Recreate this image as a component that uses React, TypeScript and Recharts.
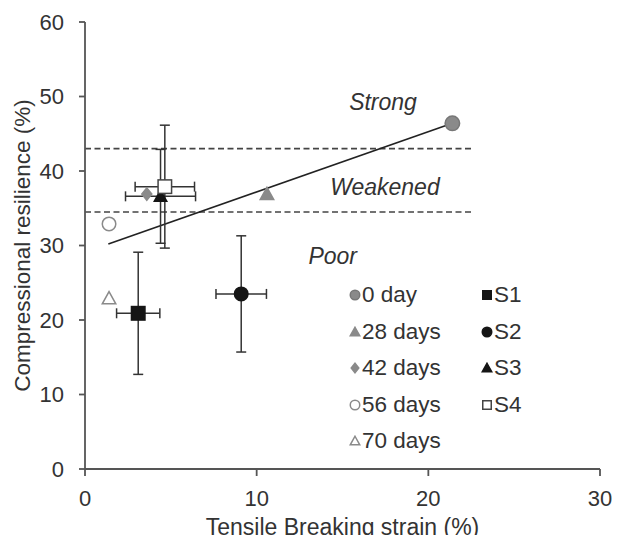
import React from 'react';
import {
  ScatterChart,
  Scatter,
  XAxis,
  YAxis,
  ErrorBar,
  ReferenceLine,
  ReferenceDot,
  Legend,
} from 'recharts';

// ---------- data ----------
const dayLabels = ['0 day', '28 days', '42 days', '56 days', '70 days'];
const dayStrain = [21.4, 10.6, 3.6, 1.4, 1.4];
const dayResilience = [46.4, 36.9, 36.9, 32.9, 22.9];

const sampleLabels = ['S1', 'S2', 'S3', 'S4'];
const sampleStrain = [3.1, 9.1, 4.4, 4.65];
const sampleStrainErr = [1.26, 1.47, 2.04, 1.73];
const sampleResilience = [20.9, 23.5, 36.6, 37.9];
const sampleResilienceErr = [8.2, 7.8, 6.3, 8.25];

const trendX = [1.36, 21.4];
const trendY = [30.2, 46.4];

const thresholdLevels = [43, 34.5];
const thresholdEndX = 22.5;

const regionLabels = ['Strong', 'Weakened', 'Poor'];
const regionX = [17.36, 17.47, 14.43];
const regionY = [49.3, 37.9, 28.6];

const xTicks = [0, 10, 20, 30];
const yTicks = [0, 10, 20, 30, 40, 50, 60];

// ---------- styles ----------
const FONT = '"Liberation Sans", Arial, Helvetica, sans-serif';
const TEXT = '#333';
const AXIS = '#555';
const GRAY = '#8a8a8a';
const BLACK = '#151515';

type Kind = 'circle' | 'triangle' | 'diamond' | 'square';
interface MarkerStyle {
  kind: Kind;
  fill: string;
  stroke: string;
  size: number;
}

const dayStyles: MarkerStyle[] = [
  { kind: 'circle', fill: GRAY, stroke: '#777', size: 16 },
  { kind: 'triangle', fill: GRAY, stroke: GRAY, size: 15 },
  { kind: 'diamond', fill: GRAY, stroke: GRAY, size: 14 },
  { kind: 'circle', fill: '#fff', stroke: GRAY, size: 15 },
  { kind: 'triangle', fill: '#fff', stroke: GRAY, size: 15 },
];
const sampleStyles: MarkerStyle[] = [
  { kind: 'square', fill: BLACK, stroke: BLACK, size: 15 },
  { kind: 'circle', fill: BLACK, stroke: BLACK, size: 15 },
  { kind: 'triangle', fill: BLACK, stroke: BLACK, size: 14 },
  { kind: 'square', fill: '#fff', stroke: '#444', size: 15 },
];

function Marker({ cx, cy, s, size }: { cx: number; cy: number; s: MarkerStyle; size?: number }) {
  const sz = size ?? s.size;
  const sw = 1.5;
  const h = sz / 2 - sw / 2;
  const common = { fill: s.fill, stroke: s.stroke, strokeWidth: sw };
  switch (s.kind) {
    case 'circle':
      return <circle cx={cx} cy={cy} r={h} {...common} />;
    case 'square':
      return <rect x={cx - h} y={cy - h} width={2 * h} height={2 * h} {...common} />;
    case 'triangle':
      return (
        <polygon
          points={`${cx},${cy - h} ${cx + h},${cy + h * 0.8} ${cx - h},${cy + h * 0.8}`}
          {...common}
        />
      );
    case 'diamond':
      return (
        <polygon
          points={`${cx},${cy - h} ${cx + h * 0.8},${cy} ${cx},${cy + h} ${cx - h * 0.8},${cy}`}
          {...common}
        />
      );
  }
  return null;
}

const LegendIcon = ({ s }: { s: MarkerStyle }) => (
  <svg width={12} height={12} style={{ display: 'block' }}>
    <Marker cx={6} cy={6} s={s} size={s.kind === 'square' ? 10 : 11} />
  </svg>
);

const renderLegend = () => {
  const items = [
    ...dayLabels.map((l, i) => ({ label: l, s: dayStyles[i] })),
    ...sampleLabels.map((l, i) => ({ label: l, s: sampleStyles[i] })),
  ];
  return (
    <div
      style={{
        display: 'grid',
        gridTemplateColumns: '132px 80px',
        gridTemplateRows: 'repeat(5, 36.5px)',
        gridAutoFlow: 'column',
        fontFamily: FONT,
        fontSize: 22.5,
        color: TEXT,
      }}
    >
      {items.map((it) => (
        <div key={it.label} style={{ display: 'flex', alignItems: 'center', whiteSpace: 'nowrap' }}>
          <LegendIcon s={it.s} />
          <span style={{ marginLeft: 1 }}>{it.label}</span>
        </div>
      ))}
    </div>
  );
};

export default function App() {
  const W = 609;
  const H = 535;
  return (
    <div style={{ width: W, height: H, marginBottom: -8, fontFamily: FONT }}>
      <ScatterChart
        width={W}
        height={H}
        margin={{ top: 14, right: 17, bottom: 14, left: 0 }}
        style={{ fontFamily: FONT }}
      >
        <XAxis
          type="number"
          dataKey="x"
          domain={[0, 30]}
          ticks={xTicks}
          allowDataOverflow
          height={60}
          stroke={AXIS}
          strokeWidth={1.8}
          tickSize={7}
          tickMargin={14}
          tick={{ fill: TEXT, fontSize: 22, fontFamily: FONT }}
          label={{
            value: 'Tensile Breaking strain (%)',
            position: 'center',
            dy: 28,
            fill: TEXT,
            fontSize: 23,
            fontFamily: FONT,
          }}
        />
        <YAxis
          type="number"
          dataKey="y"
          domain={[0, 60]}
          ticks={yTicks}
          allowDataOverflow
          width={77}
          stroke={AXIS}
          strokeWidth={1.8}
          tickSize={6}
          tickMargin={15}
          tick={{ fill: TEXT, fontSize: 22, fontFamily: FONT }}
          label={{
            value: 'Compressional resilience (%)',
            angle: -90,
            position: 'center',
            dx: -24.5,
            fill: TEXT,
            fontSize: 22.5,
            fontFamily: FONT,
          }}
        />

        {thresholdLevels.map((lv) => (
          <ReferenceLine
            key={lv}
            segment={[
              { x: 0, y: lv },
              { x: thresholdEndX, y: lv },
            ]}
            stroke="#444"
            strokeWidth={1.6}
            strokeDasharray="6 3.5"
          />
        ))}
        <ReferenceLine
          segment={[
            { x: trendX[0], y: trendY[0] },
            { x: trendX[1], y: trendY[1] },
          ]}
          stroke="#222"
          strokeWidth={1.6}
        />

        {regionLabels.map((t, i) => (
          <ReferenceDot
            key={t}
            x={regionX[i]}
            y={regionY[i]}
            r={0}
            fill="none"
            stroke="none"
            label={{
              value: t,
              position: 'center',
              fill: TEXT,
              fontSize: 23,
              fontStyle: 'italic',
              fontFamily: FONT,
            }}
          />
        ))}

        {dayLabels.map((l, i) => (
          <Scatter
            key={l}
            name={l}
            data={[{ x: dayStrain[i], y: dayResilience[i] }]}
            isAnimationActive={false}
            shape={(p: any) => <Marker cx={p.cx} cy={p.cy} s={dayStyles[i]} />}
          />
        ))}
        {sampleLabels.map((l, i) => (
          <Scatter
            key={l}
            name={l}
            data={[
              {
                x: sampleStrain[i],
                y: sampleResilience[i],
                ex: sampleStrainErr[i],
                ey: sampleResilienceErr[i],
              },
            ]}
            isAnimationActive={false}
            shape={(p: any) => <Marker cx={p.cx} cy={p.cy} s={sampleStyles[i]} />}
          >
            <ErrorBar dataKey="ey" direction="y" width={5} stroke="#333" strokeWidth={1.5} isAnimationActive={false} />
            <ErrorBar dataKey="ex" direction="x" width={5} stroke="#333" strokeWidth={1.5} isAnimationActive={false} />
          </Scatter>
        ))}

        <Legend
          layout="vertical"
          align="center"
          verticalAlign="middle"
          content={renderLegend}
          wrapperStyle={{ position: 'absolute', left: 341, top: 269, width: 'auto' }}
        />
      </ScatterChart>
    </div>
  );
}
